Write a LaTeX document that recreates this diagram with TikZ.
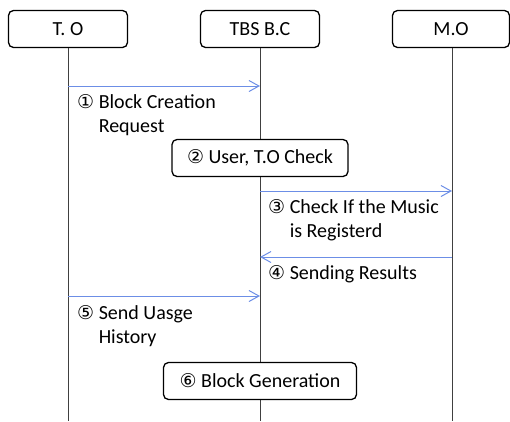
\documentclass[tikz,border=0pt]{standalone}
\usepackage{fontspec}
\setmainfont{Carlito}
\newfontfamily\circfont{DejaVu Sans}
\usetikzlibrary{arrows.meta}
\definecolor{msgblue}{RGB}{108,142,230}
\newcommand\stepno[1]{{\circfont\fontsize{19}{23.5}\selectfont #1}}
\tikzset{
  actor/.style={draw, line width=1.3pt, rounded corners=5pt, fill=white,
    minimum height=37pt, inner sep=0pt},
  lifeline/.style={draw=black!75, line width=1pt},
  msg/.style={draw=msgblue, line width=1pt, -{Straight Barb[length=10pt,width=11pt]}},
  lbl/.style={anchor=base west, inner sep=0pt, align=left},
}
\begin{document}
\begin{tikzpicture}[x=1pt,y=-1pt,font=\fontsize{20}{24}\selectfont]
      \useasboundingbox (0,0) rectangle (510,421);
      \draw
        (68,29) node[actor, minimum width=119pt] (to){T. O}
        (260,29) node[actor, minimum width=119pt] (bc){TBS B.C}
        (451,29) node[actor, minimum width=117pt] (mo){M.O};
      \coordinate (toend) at (68,421);
      \coordinate (bcend) at (260,421);
      \coordinate (moend) at (452,421);
      \begin{scope}[lifeline]
        \draw (to) to (toend);
        \draw (bc) to (bcend);
        \draw (mo.south -| moend) to (moend);
      \end{scope}
      \draw
        (260,158) node[actor, minimum width=176pt] (check){\stepno{②} User, T.O Check}
        (260,381) node[actor, minimum width=193pt] (gen){\stepno{⑥} Block Generation};
      \coordinate (m1a) at (68,86);
      \coordinate (m1b) at (260,86);
      \coordinate (m3a) at (260,191);
      \coordinate (m3b) at (452,191);
      \coordinate (m4a) at (452,257);
      \coordinate (m4b) at (260,257);
      \coordinate (m5a) at (68,296);
      \coordinate (m5b) at (260,296);
      \begin{scope}[msg]
        \draw (m1a) to (m1b);
        \draw (m3a) to (m3b);
        \draw (m4a) to (m4b);
        \draw (m5a) to (m5b);
      \end{scope}
      \draw
        (77,132) node[lbl] (l1){\stepno{①} Block Creation\\\phantom{\stepno{①}} Request}
        (268,237) node[lbl] (l3){\stepno{③} Check If the Music\\\phantom{\stepno{③}} is Registerd}
        (268,279) node[lbl] (l4){\stepno{④} Sending Results}
        (77,343) node[lbl] (l5){\stepno{⑤} Send Uasge\\\phantom{\stepno{⑤}} History};
    \end{tikzpicture}
\end{document}
